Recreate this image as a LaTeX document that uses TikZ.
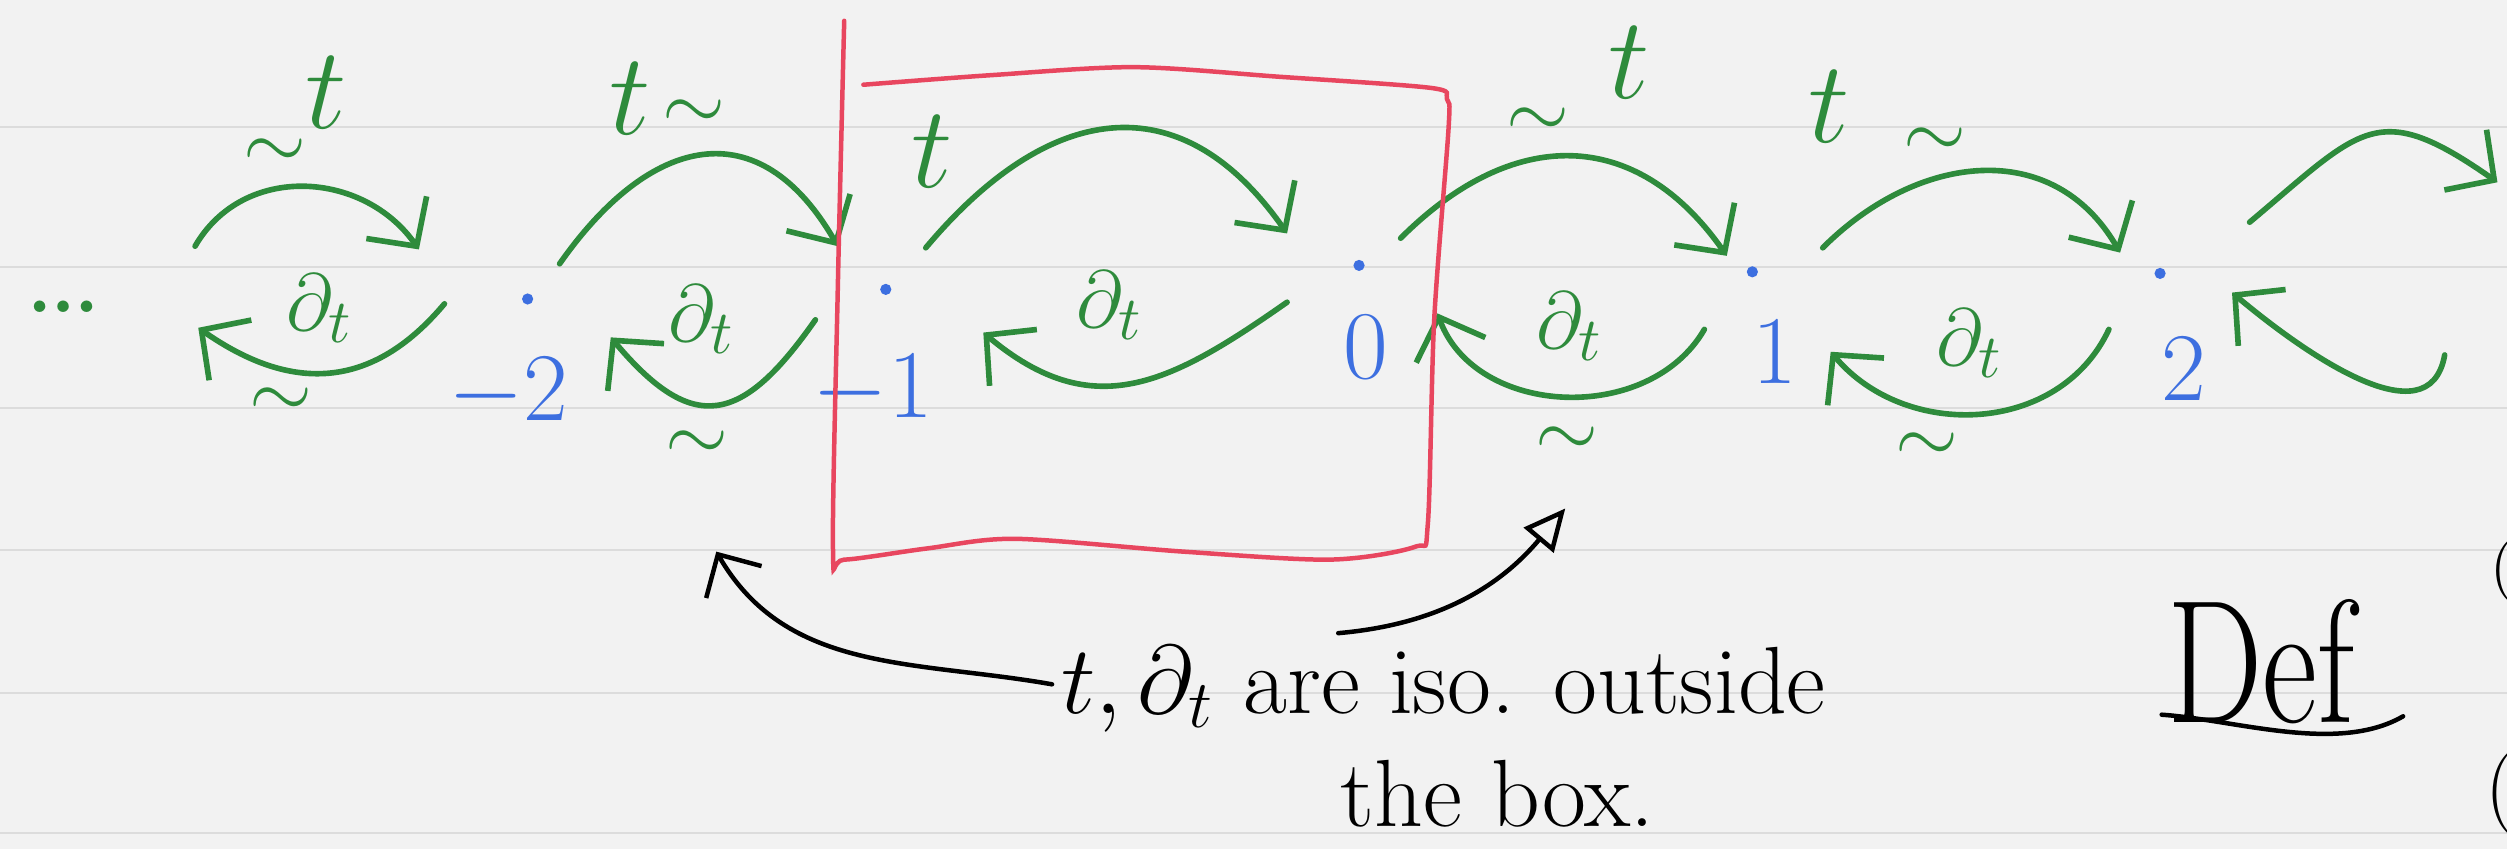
\documentclass[tikz,border=0pt]{standalone}
\usepackage{graphicx}
\usepackage{amsmath}
\usetikzlibrary{arrows.meta}

\definecolor{pgreen}{HTML}{2E8B3C}
\definecolor{pblue}{HTML}{3D6FE0}
\definecolor{pred}{HTML}{E8465F}
\definecolor{paper}{HTML}{F2F2F2}
\definecolor{ruled}{HTML}{DCDCDC}

\begin{document}
\begin{tikzpicture}[
			dot/.style={circle, fill=pblue, inner sep=0pt, minimum size=0.7mm},
			num/.style={text=pblue, inner sep=0pt, font=\fontsize{18}{21}\selectfont},
			lab/.style={text=pgreen, inner sep=0pt, font=\fontsize{22}{26}\selectfont},
			dlab/.style={text=pgreen, inner sep=0pt, font=\fontsize{15}{18}\selectfont},
			tlab/.style={text=pgreen, inner sep=0pt, font=\fontsize{15}{18}\selectfont},
			fwd/.style={draw=pgreen, line width=1pt, line cap=round, -{Straight Barb[length=2.2mm,width=4.6mm]}},
			note/.style={inner sep=0pt, font=\fontsize{17}{20}\selectfont},
			pointer/.style={draw=black, line width=0.8pt, line cap=round},
			redbox/.style={draw=pred, line width=0.8pt, line cap=round},
			]
			
			%% ── Paper ─────────────────────────────────────────────────────────────
			\fill[paper] (0,0) rectangle (15.68,-5.31);
			\useasboundingbox (0,0) rectangle (15.68,-5.31);
			\foreach \y in {-0.794,-1.670,-2.552,-3.440,-4.334,-5.210}
				\draw[ruled, line width=0.4pt] (0,\y) -- (15.68,\y);
			
			%% ── Points of the chain ───────────────────────────────────────────────
			\node[lab, font=\fontsize{25}{30}\selectfont] (dots) at (0.40,-1.92) {\dots};
			\node[dot] (pm2) at (3.30,-1.87) {};
			\node[dot] (pm1) at (5.54,-1.81) {};
			\node[dot] (p0)  at (8.50,-1.66) {};
			\node[dot] (p1)  at (10.96,-1.70) {};
			\node[dot] (p2)  at (13.51,-1.71) {};
			\node[num] (nm2) at (3.18,-2.46) {$-2$};
			\node[num] (nm1) at (5.46,-2.44) {$-1$};
			\node[num] (n0)  at (8.54,-2.17) {$0$};
			\node[num] (n1)  at (11.10,-2.20) {$1$};
			\node[num] (n2)  at (13.66,-2.31) {$2$};
			
			%% ── Arrow ends ────────────────────────────────────────────────────────
			\coordinate (t1a) at (1.22,-1.54);  \coordinate (t1b) at (2.62,-1.56);
			\coordinate (t2a) at (3.50,-1.65);  \coordinate (t2b) at (5.24,-1.54);
			\coordinate (t3a) at (5.79,-1.55);  \coordinate (t3b) at (8.05,-1.46);
			\coordinate (t4a) at (8.76,-1.49);  \coordinate (t4b) at (10.80,-1.60);
			\coordinate (t5a) at (11.40,-1.55); \coordinate (t5b) at (13.26,-1.58);
			\coordinate (t6a) at (14.07,-1.39); \coordinate (t6b) at (15.62,-1.14);
			\coordinate (b1a) at (2.78,-1.90);  \coordinate (b1b) at (1.24,-2.05);
			\coordinate (b2a) at (5.10,-2.00);  \coordinate (b2b) at (3.82,-2.11);
			\coordinate (b3a) at (8.05,-1.89);  \coordinate (b3b) at (6.15,-2.08);
			\coordinate (b4a) at (10.66,-2.06); \coordinate (b4b) at (8.99,-1.96);
			\coordinate (b5a) at (13.19,-2.06); \coordinate (b5b) at (11.45,-2.20);
			\coordinate (b6a) at (15.29,-2.22); \coordinate (b6b) at (13.96,-1.83);
			
			%% ── t arrows (top) ────────────────────────────────────────────────────
			\draw[fwd] (t1a) to[out=60,in=125,looseness=1.1]  (t1b);
			\draw[fwd] (t2a) to[out=55,in=120,looseness=1.45] (t2b);
			\draw[fwd] (t3a) to[out=50,in=125,looseness=1.33] (t3b);
			\draw[fwd] (t4a) to[out=45,in=125,looseness=1.24] (t4b);
			\draw[fwd] (t5a) to[out=45,in=120,looseness=1.15] (t5b);
			\draw[fwd] (t6a) to[out=40,in=145,looseness=1.5]  (t6b);
			
			%% ── d_t arrows (bottom) ───────────────────────────────────────────────
			\draw[fwd] (b1a) to[out=230,in=-35,looseness=1.17] (b1b);
			\draw[fwd] (b2a) to[out=235,in=-50,looseness=1.6]  (b2b);
			\draw[fwd] (b3a) to[out=215,in=-40,looseness=1.2]  (b3b);
			\draw[fwd] (b4a) to[out=240,in=-70,looseness=1.06] (b4b);
			\draw[fwd] (b5a) to[out=245,in=-50,looseness=1.07] (b5b);
			\draw[fwd] (b6a) to[out=260,in=-40,looseness=1.03] (b6b);
			
			%% ── Green labels ──────────────────────────────────────────────────────
			\node[tlab] (s1t) at (1.72,-0.96) {$\sim$};
			\node[lab]  (l1t) at (2.04,-0.58) {$t$};
			\node[dlab] (l1d) at (2.00,-1.93) {$\partial_t$};
			\node[tlab] (s1d) at (1.76,-2.52) {$\sim$};
			\node[lab]  (l2t) at (3.94,-0.62) {$t$};
			\node[tlab] (s2t) at (4.34,-0.72) {$\sim$};
			\node[dlab] (l2d) at (4.39,-2.00) {$\partial_t$};
			\node[tlab] (s2d) at (4.36,-2.79) {$\sim$};
			\node[lab]  (l3t) at (5.83,-0.95) {$t$};
			\node[dlab] (l3d) at (6.94,-1.91) {$\partial_t$};
			\node[tlab] (s4t) at (9.62,-0.77) {$\sim$};
			\node[lab]  (l4t) at (10.19,-0.39) {$t$};
			\node[dlab] (l4d) at (9.82,-2.04) {$\partial_t$};
			\node[tlab] (s4d) at (9.80,-2.76) {$\sim$};
			\node[lab]  (l5t) at (11.44,-0.67) {$t$};
			\node[tlab] (s5t) at (12.10,-0.89) {$\sim$};
			\node[dlab] (l5d) at (12.32,-2.15) {$\partial_t$};
			\node[tlab] (s5d) at (12.05,-2.80) {$\sim$};
			
			%% ── The box ───────────────────────────────────────────────────────────
			\draw[redbox] plot[smooth, tension=0.5] coordinates {
				(5.40,-0.53) (6.20,-0.47) (7.09,-0.42) (8.00,-0.48) (8.95,-0.55)
				(9.05,-0.62) (9.06,-0.80) (8.97,-2.00) (8.93,-3.28) (8.85,-3.42)
				(8.32,-3.50) (7.40,-3.45) (6.35,-3.37) (5.80,-3.43) (5.28,-3.50)
				(5.21,-3.44) (5.24,-1.80) (5.28,-0.13)};
			
			%% ── Note ──────────────────────────────────────────────────────────────
			\node[note, anchor=base west] (iso) at (6.63,-4.46) {$t,\partial_t$ are iso. outside};
			\node[note, anchor=base west] (box) at (8.38,-5.17) {the box.};
			\coordinate (la) at (6.58,-4.28); \coordinate (lb) at (4.48,-3.45);
			\coordinate (ra) at (8.37,-3.96); \coordinate (rb) at (9.79,-3.18);
			\draw[pointer, -{Straight Barb[length=2mm,width=4mm]}] (la) to[out=170,in=-60] (lb);
			\draw[pointer, -{Triangle[open,length=2.6mm,width=2.4mm]}] (ra) to[out=5,in=-130] (rb);
			
			%% ── Def ───────────────────────────────────────────────────────────────
			\node[note, anchor=base west, font=\fontsize{24}{28}\selectfont] (def) at (13.55,-4.52) {\scalebox{1}[1.3]{Def}};
			\coordinate (ua) at (13.52,-4.47); \coordinate (ub) at (15.03,-4.48);
			\draw[pointer] (ua) to[out=-4,in=-150,looseness=0.8] (ub);
			\node[note, anchor=west, font=\fontsize{11}{13}\selectfont] (pa) at (15.57,-3.57) {(};
			\node[note, anchor=west, font=\fontsize{15}{18}\selectfont] (pb) at (15.54,-4.96) {(};
			
		\end{tikzpicture}
\end{document}
